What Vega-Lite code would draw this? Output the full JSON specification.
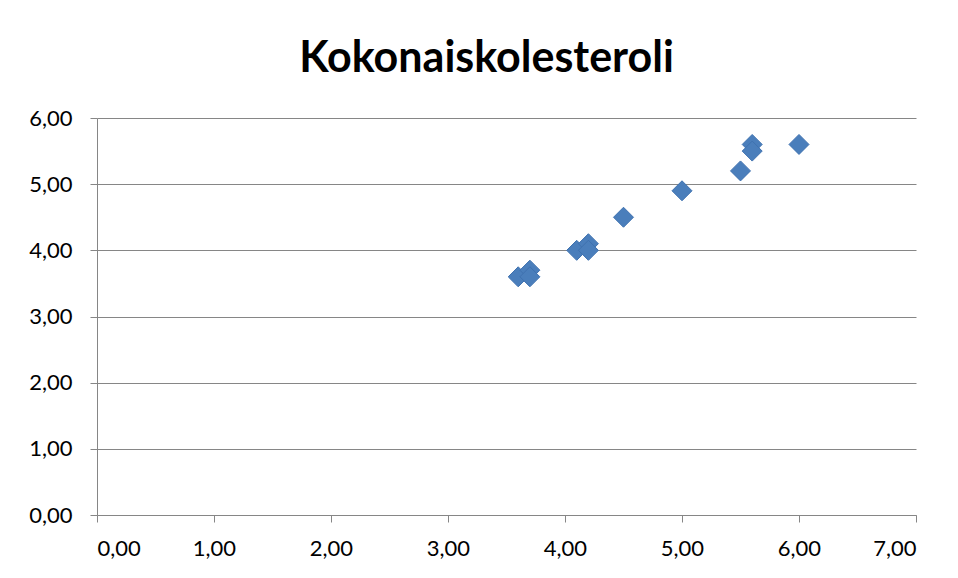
{
  "$schema": "https://vega.github.io/schema/vega-lite/v6.json",
  "width": 819,
  "height": 397,
  "autosize": {"type": "none"},
  "padding": {"left": 97, "top": 118, "right": 42, "bottom": 63},
  "background": "white",
  "title": {
    "text": "Kokonaiskolesteroli",
    "font": "Lato",
    "fontSize": 43,
    "fontWeight": "bold",
    "color": "black",
    "anchor": "middle",
    "frame": "group",
    "dx": -20,
    "offset": 26
  },
  "data": {
    "values": [
      {"x": 3.6, "y": 3.6},
      {"x": 3.7, "y": 3.7},
      {"x": 3.7, "y": 3.6},
      {"x": 4.1, "y": 4.0},
      {"x": 4.2, "y": 4.1},
      {"x": 4.2, "y": 4.0},
      {"x": 4.5, "y": 4.5},
      {"x": 5.0, "y": 4.9},
      {"x": 5.5, "y": 5.2},
      {"x": 5.6, "y": 5.6},
      {"x": 5.6, "y": 5.5},
      {"x": 6.0, "y": 5.6}
    ]
  },
  "mark": {
    "type": "point",
    "shape": "diamond",
    "filled": true,
    "size": 400,
    "fill": "#4A7EBB",
    "stroke": "#3F72B0",
    "strokeWidth": 1,
    "opacity": 1
  },
  "encoding": {
    "x": {
      "field": "x",
      "type": "quantitative",
      "scale": {"domain": [0, 7], "nice": false, "zero": false},
      "axis": {
        "title": null,
        "values": [0, 1, 2, 3, 4, 5, 6, 7],
        "format": ".2f",
        "grid": false,
        "tickSize": 7,
        "labelPadding": 16
      }
    },
    "y": {
      "field": "y",
      "type": "quantitative",
      "scale": {"domain": [0, 6], "nice": false, "zero": false},
      "axis": {
        "title": null,
        "values": [0, 1, 2, 3, 4, 5, 6],
        "format": ".2f",
        "grid": true,
        "tickSize": 7,
        "labelPadding": 18
      }
    }
  },
  "config": {
    "locale": {
      "number": {
        "decimal": ",",
        "thousands": " ",
        "grouping": [3],
        "currency": ["", " €"]
      }
    },
    "view": {"stroke": null},
    "axis": {
      "domainColor": "#868686",
      "domainWidth": 1,
      "tickColor": "#868686",
      "tickWidth": 1,
      "gridColor": "#868686",
      "gridWidth": 1,
      "gridOpacity": 1,
      "labelFont": "Lato",
      "labelFontSize": 22,
      "labelColor": "black"
    }
  }
}
